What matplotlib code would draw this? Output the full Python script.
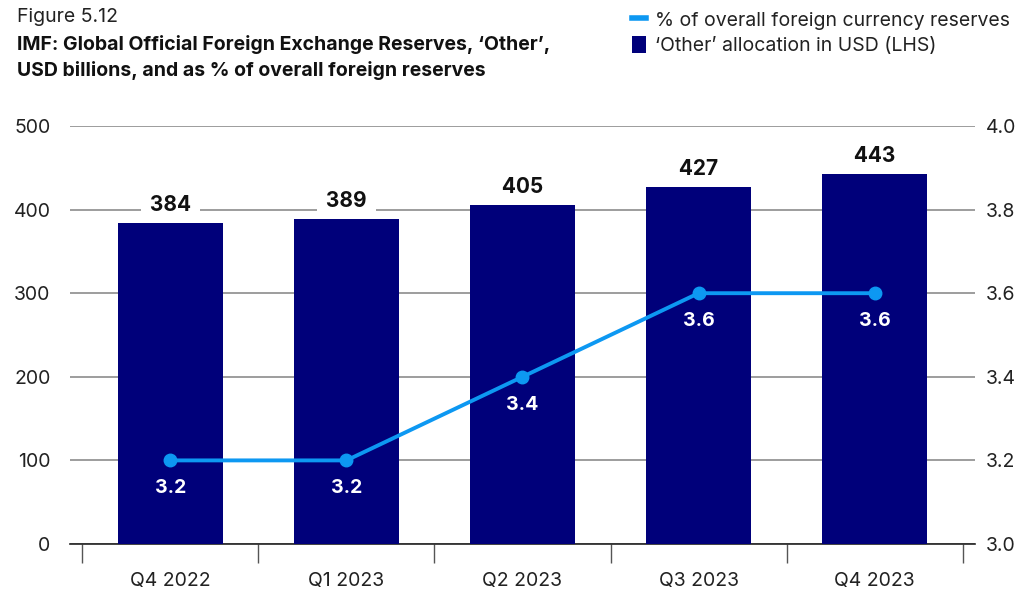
import matplotlib.pyplot as plt
from matplotlib.lines import Line2D
from matplotlib.patches import Patch

quarters = ["Q4 2022", "Q1 2023", "Q2 2023", "Q3 2023", "Q4 2023"]
other_usd_bn = [384, 389, 405, 427, 443]
share_pct = [3.2, 3.2, 3.4, 3.6, 3.6]

bar_color = "#00007a"
line_color = "#0d98f2"
grid_color = "#8c8c8c"

plt.rcParams["font.family"] = ["Inter", "DejaVu Sans"]

fig = plt.figure(figsize=(10.2, 5.89), dpi=100)
ax = fig.add_axes([70 / 1020, 1 - 544 / 589, 905 / 1020, 418 / 589])
ax2 = ax.twinx()

x = list(range(len(quarters)))
ax.bar(x, other_usd_bn, width=0.6, color=bar_color, zorder=3)
ax.set_ylim(0, 500)
ax.set_xlim(-0.57, 4.57)
ax.set_yticks([0, 100, 200, 300, 400, 500])
ax.yaxis.grid(True, color=grid_color, linewidth=1.2, zorder=0)
ax.set_axisbelow(True)
for s in ["top", "left", "right"]:
    ax.spines[s].set_visible(False)
ax.spines["bottom"].set_color("#222222")
ax.spines["bottom"].set_linewidth(1.2)
ax.tick_params(axis="y", length=0, labelsize=14, pad=14, labelcolor="#222222")

# category labels centered, ticks on category boundaries
ax.set_xticks(x)
ax.set_xticklabels(quarters)
ax.tick_params(axis="x", length=0, labelsize=14, pad=20, labelcolor="#222222")
ax.set_xticks([i - 0.5 for i in range(len(quarters) + 1)], minor=True)
ax.tick_params(axis="x", which="minor", length=14, width=1.0, color="#555555", direction="out")

# value labels sit on a white patch that breaks the gridline
for xi, v in zip(x, other_usd_bn):
    ax.annotate(f" {v} ", (xi, v), xytext=(0, 13), textcoords="offset points",
                ha="center", va="center", fontsize=15, fontweight="bold", color="#111111",
                bbox=dict(boxstyle="square,pad=0.2", fc="white", ec="none"), zorder=2.5)

ax2.plot(x, share_pct, color=line_color, linewidth=2.8, marker="o", markersize=9, zorder=4)
ax2.set_ylim(3.0, 4.0)
ax2.set_yticks([3.0, 3.2, 3.4, 3.6, 3.8, 4.0])
ax2.set_yticklabels([f"{v:.1f}" for v in [3.0, 3.2, 3.4, 3.6, 3.8, 4.0]])
for s in ["top", "left", "right", "bottom"]:
    ax2.spines[s].set_visible(False)
ax2.tick_params(axis="y", length=0, labelsize=14, pad=8, labelcolor="#222222")
for xi, v in zip(x, share_pct):
    ax2.annotate(f"{v:.1f}", (xi, v), xytext=(0, -20), textcoords="offset points",
                 ha="center", va="center", fontsize=14, fontweight="bold", color="white", zorder=6)

fig.text(17 / 1020, 1 - 17 / 589, "Figure 5.12", fontsize=14, color="#222222", va="center")
fig.text(17 / 1020, 1 - 44 / 589, "IMF: Global Official Foreign Exchange Reserves, \u2018Other\u2019,",
         fontsize=14, fontweight="bold", color="#111111", va="center")
fig.text(17 / 1020, 1 - 70 / 589, "USD billions, and as % of overall foreign reserves",
         fontsize=14, fontweight="bold", color="#111111", va="center")

handles = [Line2D([0], [0], color=line_color, linewidth=4),
           Patch(facecolor=bar_color, edgecolor="none")]
labels = ["% of overall foreign currency reserves", "\u2018Other\u2019 allocation in USD (LHS)"]
fig.legend(handles, labels, loc="upper left", bbox_to_anchor=(624 / 1020, 1 - 3 / 589),
           frameon=False, fontsize=14, handlelength=0.75, handleheight=0.9, handletextpad=0.45,
           labelspacing=0.35, borderaxespad=0, labelcolor="#222222")

fig.savefig("out.png", dpi=100)
